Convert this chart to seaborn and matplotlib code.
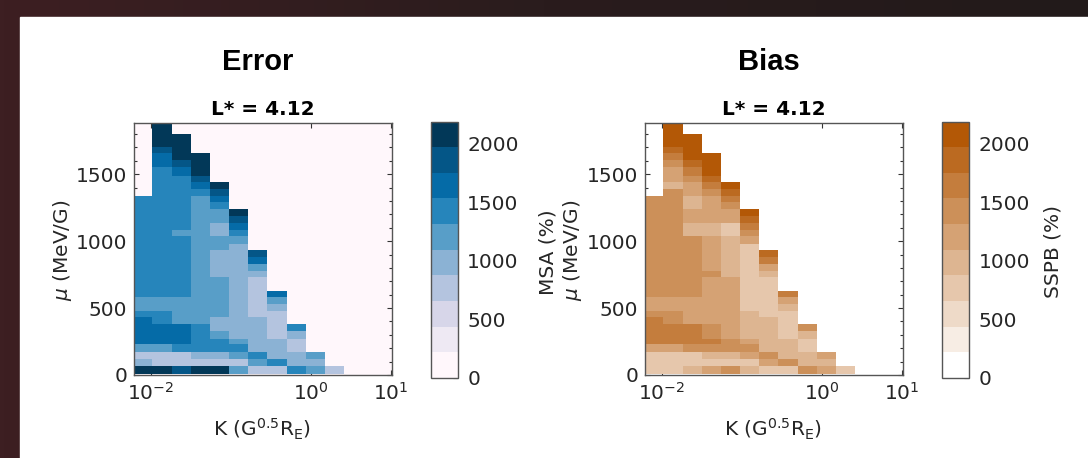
import numpy as np
import pandas as pd
import matplotlib
matplotlib.use("Agg")
import matplotlib.pyplot as plt
import seaborn as sns
from matplotlib.colors import ListedColormap, LinearSegmentedColormap
from matplotlib.ticker import MultipleLocator, FixedLocator, NullLocator, LogFormatterSciNotation
from matplotlib.patches import Rectangle

# ---------------- data ----------------
# K bin edges, log10(K / G^0.5 R_E)
k_edges_log = [-2.22, -1.98, -1.74, -1.50, -1.26, -1.02, -0.78, -0.54, -0.30, -0.06, 0.18, 0.42]

# Error (MSA %): per K column, mu boundaries (MeV/G) and the value in each band
error_mu_bounds = [
    [10, 70, 120, 170, 230, 430, 480, 580, 1340],
    [10, 70, 170, 230, 380, 480, 580, 1555, 1655, 1705, 1880],
    [10, 70, 170, 230, 380, 580, 1040, 1085, 1490, 1555, 1605, 1800],
    [10, 70, 120, 170, 380, 1340, 1390, 1445, 1490, 1655],
    [10, 70, 120, 170, 270, 330, 430, 730, 935, 1040, 1135, 1240, 1290, 1340, 1390, 1445],
    [10, 70, 120, 170, 230, 270, 980, 1040, 1085, 1135, 1185, 1240],
    [10, 70, 120, 170, 430, 730, 780, 830, 885, 935],
    [10, 70, 120, 270, 480, 530, 580, 630],
    [10, 70, 170, 270, 330, 380],
    [10, 70, 120, 170],
    [10, 70],
]
error_values = [
    [2080, 990, 770, 1200, 1640, 1420, 1200, 1420],
    [2080, 770, 1200, 1640, 1420, 1200, 1420, 1640, 1860, 2080],
    [1860, 770, 1420, 1640, 1200, 1420, 1200, 1420, 1640, 1860, 2080],
    [2080, 770, 990, 1420, 1200, 1420, 1640, 1860, 2080],
    [2080, 770, 990, 1420, 1200, 990, 1200, 990, 1200, 990, 1200, 1420, 1640, 1860, 2080],
    [1200, 770, 1200, 1420, 1200, 990, 1200, 1420, 1640, 1860, 2080],
    [770, 1200, 1420, 990, 770, 990, 1200, 1640, 1860],
    [770, 1420, 990, 770, 990, 1200, 1640],
    [1420, 990, 770, 990, 1420],
    [1200, 990, 1200],
    [770],
]

# Bias (SSPB %)
bias_mu_bounds = [
    [10, 170, 230, 430, 480, 580, 1340],
    [10, 170, 230, 380, 480, 580, 1390, 1445, 1555, 1605, 1655, 1705, 1880],
    [10, 70, 170, 230, 380, 580, 1040, 1135, 1240, 1340, 1445, 1490, 1555, 1605, 1800],
    [10, 70, 120, 170, 230, 270, 380, 730, 780, 1040, 1135, 1340, 1390, 1445, 1490, 1655],
    [10, 70, 120, 170, 270, 730, 1040, 1135, 1240, 1290, 1340, 1390, 1445],
    [10, 70, 120, 170, 230, 270, 480, 980, 1040, 1085, 1135, 1185, 1240],
    [10, 70, 120, 170, 430, 730, 780, 830, 885, 935],
    [10, 70, 120, 270, 480, 530, 580, 630],
    [10, 70, 170, 270, 330, 380],
    [10, 70, 120, 170],
    [10, 70],
]
bias_values = [
    [770, 1200, 1640, 1420, 1200, 1420],
    [770, 1200, 1640, 1420, 1200, 1420, 990, 1200, 1420, 1640, 1860, 2080],
    [990, 770, 1420, 1640, 1200, 1420, 990, 1200, 990, 1200, 1420, 1640, 1860, 2080],
    [1200, 770, 990, 1420, 1640, 1420, 1200, 1420, 1200, 990, 1200, 1420, 1640, 1860, 2080],
    [1420, 770, 990, 1420, 1200, 990, 770, 1200, 1420, 1640, 1860, 2080],
    [990, 770, 1200, 1420, 1200, 990, 770, 1200, 1420, 1640, 1860, 2080],
    [770, 1200, 1420, 990, 770, 990, 1200, 1640, 1860],
    [770, 1420, 990, 770, 990, 1200, 1640],
    [1420, 990, 770, 990, 1420],
    [1200, 990, 1200],
    [770],
]

cbar_ticks = [0, 500, 1000, 1500, 2000]
VMAX = 2190
N_LEVELS = 10

# union of all mu boundaries -> common mu grid
mu_edges = sorted(set(b for cols in (error_mu_bounds, bias_mu_bounds) for col in cols for b in col))


def build_frame(mu_bounds, values):
    rows = []
    for j, (bnds, vals) in enumerate(zip(mu_bounds, values)):
        kc = 10 ** ((k_edges_log[j] + k_edges_log[j + 1]) / 2)
        for lo, hi, v in zip(bnds[:-1], bnds[1:], vals):
            for a, c in zip(mu_edges[:-1], mu_edges[1:]):
                if a >= lo and c <= hi:
                    rows.append((kc, (a + c) / 2, v))
    return pd.DataFrame(rows, columns=["K", "mu", "val"])


err_df = build_frame(error_mu_bounds, error_values)
bias_df = build_frame(bias_mu_bounds, bias_values)

# ---------------- styling ----------------
sns.set_theme(style="ticks")
plt.rcParams["font.family"] = ["DejaVu Sans"]
plt.rcParams["mathtext.fontset"] = "dejavusans"
TXT = "#262626"

cmap_err = ListedColormap(plt.get_cmap("PuBu")(np.linspace(0, 1, N_LEVELS)))
cmap_bias = ListedColormap(
    LinearSegmentedColormap.from_list("wor", ["#ffffff", "#b35806"])(np.linspace(0, 1, N_LEVELS)))

W, H = 1088, 458
fig = plt.figure(figsize=(W / 100, H / 100), dpi=100)

# dark frame with white panel
bg = fig.add_axes([0, 0, 1, 1], zorder=-10)
grad = np.linspace(0, 1, 256)[None, :]
bg.imshow(grad, aspect="auto", extent=[0, 1, 0, 1],
          cmap=LinearSegmentedColormap.from_list("bg", ["#3d1f22", "#2a1c1d", "#221a1a"]))
bg.add_patch(Rectangle((20 / W, 0), 1, 1 - 17 / H, color="white", zorder=2))
bg.set_xlim(0, 1)
bg.set_ylim(0, 1)
bg.axis("off")


def fx(px):
    return px / W


def fy(py):
    return 1 - py / H


panels = [
    dict(df=err_df, cmap=cmap_err, ax_x=134, cb_x=430.5, head="Error", head_x=258,
         cb_label="MSA (%)", cb_lab_x=548, ylab_x=62, xlab_x=262),
    dict(df=bias_df, cmap=cmap_bias, ax_x=645, cb_x=942, head="Bias", head_x=769,
         cb_label="SSPB (%)", cb_lab_x=1053, ylab_x=573, xlab_x=773),
]

ax_w, ax_top, ax_bot = 258.5, 123.3, 375.0
cb_w, cb_top, cb_bot = 27.0, 121.7, 377.7

for p in panels:
    ax = fig.add_axes([fx(p["ax_x"]), fy(ax_bot), ax_w / W, (ax_bot - ax_top) / H])
    cax = fig.add_axes([fx(p["cb_x"]), fy(cb_bot), cb_w / W, (cb_bot - cb_top) / H])
    ax.set_facecolor(p["cmap"](0))

    sns.histplot(data=p["df"], x="K", y="mu", weights="val",
                 bins=(k_edges_log, mu_edges), log_scale=(True, False),
                 cmap=p["cmap"], vmin=0, vmax=VMAX, thresh=0,
                 cbar=True, cbar_ax=cax, cbar_kws=dict(ticks=cbar_ticks),
                 ax=ax)

    ax.set_xlim(10 ** -2.21, 10 ** 1.025)
    ax.set_ylim(0, 1880)
    ax.xaxis.set_major_locator(FixedLocator([1e-2, 1e0, 1e1]))
    ax.xaxis.set_major_formatter(LogFormatterSciNotation())
    ax.xaxis.set_minor_locator(NullLocator())
    ax.yaxis.set_major_locator(FixedLocator([0, 500, 1000, 1500]))
    ax.yaxis.set_minor_locator(MultipleLocator(100))
    ax.tick_params(which="both", direction="in", top=True, right=True,
                   colors="#333333", labelcolor=TXT, labelsize=14.5, width=0.8)
    ax.tick_params(which="major", length=3.5, pad=5)
    ax.tick_params(which="minor", length=2)
    for s in ax.spines.values():
        s.set_color("#555555")
        s.set_linewidth(1.0)
    ax.set_xlabel("")
    ax.set_ylabel("")
    ax.set_title("L* = 4.12", fontsize=14.5, fontweight="bold", color="black", pad=6)

    cax.tick_params(direction="in", length=3.5, width=0.8, colors="#333333",
                    labelcolor=TXT, labelsize=14.5, pad=7)
    cax.minorticks_off()
    for s in cax.spines.values():
        s.set_color("#555555")
        s.set_linewidth(1.0)
    try:
        cax.collections[0].colorbar.outline.set_edgecolor("#555555")
    except Exception:
        pass

    fig.text(fx(p["head_x"]), fy(62), p["head"], ha="center", va="center",
             fontsize=21, fontweight="bold", family=["Liberation Sans", "DejaVu Sans"], color="black")
    fig.text(fx(p["ylab_x"]), fy(250), r"$\mu$ (MeV/G)", rotation=90, ha="center", va="center",
             fontsize=14.5, color=TXT)
    fig.text(fx(p["xlab_x"]), fy(429), r"K (G$^{0.5}$R$_{\rm E}$)", ha="center", va="center",
             fontsize=14.5, color=TXT)
    fig.text(fx(p["cb_lab_x"]), fy(252), p["cb_label"], rotation=90, ha="center", va="center",
             fontsize=14.5, color=TXT)

fig.savefig("out.png", dpi=100)
